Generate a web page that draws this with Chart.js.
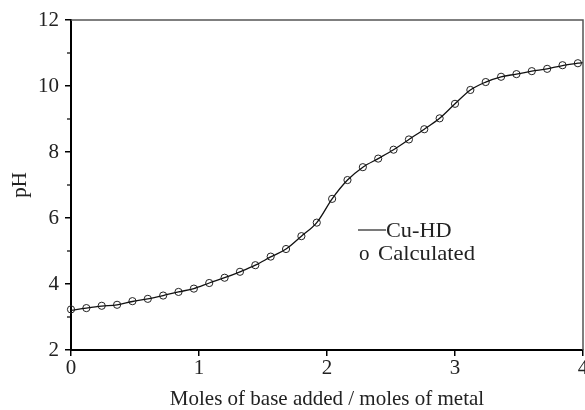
<!DOCTYPE html>
<html>
<head>
<meta charset="utf-8">
<script src="https://cdn.jsdelivr.net/npm/chart.js@4/dist/chart.umd.min.js"></script>
<style>
html,body{margin:0;padding:0;background:#fff;}
#wrap{width:585px;height:410px;position:relative;}
</style>
</head>
<body>
<div id="wrap"><canvas id="c" width="585" height="410"></canvas></div>
<script>
// Base added / metal ratio (x) for the calculated points
const calcX = [0,0.12,0.24,0.36,0.48,0.60,0.72,0.84,0.96,1.08,1.20,1.32,1.44,1.56,1.68,1.80,1.92,2.04,2.16,2.28,2.40,2.52,2.64,2.76,2.88,3.00,3.12,3.24,3.36,3.48,3.60,3.72,3.84,3.96];
// Calculated pH
const calcY = [3.23,3.27,3.34,3.37,3.48,3.55,3.65,3.76,3.86,4.03,4.19,4.37,4.57,4.83,5.06,5.45,5.86,6.58,7.15,7.54,7.80,8.07,8.38,8.69,9.02,9.46,9.88,10.12,10.28,10.36,10.45,10.52,10.63,10.69];
// Experimental Cu-HD curve
const cuHdX = [0,0.12,0.24,0.36,0.48,0.60,0.72,0.84,0.96,1.08,1.20,1.32,1.44,1.56,1.68,1.80,1.92,2.04,2.16,2.28,2.40,2.52,2.64,2.76,2.88,3.00,3.12,3.24,3.36,3.48,3.60,3.72,3.84,3.96,4.00];
const cuHdY = [3.20,3.27,3.33,3.37,3.47,3.55,3.65,3.76,3.86,4.03,4.19,4.37,4.57,4.82,5.06,5.45,5.86,6.58,7.15,7.54,7.80,8.07,8.38,8.69,9.02,9.46,9.88,10.12,10.28,10.36,10.45,10.52,10.62,10.69,10.71];
const xTicks = [0,1,2,3,4];
const yTicks = [2,4,6,8,10,12];
const yMinorTicks = [3,5,7,9,11];
const seriesNames = ['Cu-HD','Calculated'];
const xTitle = 'Moles of base added / moles of metal';
const yTitle = 'pH';

const FONT = 'Liberation Serif';

const framePlugin = {
  id: 'frame',
  afterDraw(chart) {
    const {ctx, chartArea: a, scales} = chart;
    ctx.save();
    // top & right frame
    ctx.strokeStyle = '#555';
    ctx.lineWidth = 1.5;
    ctx.beginPath();
    ctx.moveTo(a.left, a.top);
    ctx.lineTo(a.right, a.top);
    ctx.lineTo(a.right, a.bottom);
    ctx.stroke();
    // minor ticks on y
    ctx.strokeStyle = '#000';
    ctx.lineWidth = 1.2;
    yMinorTicks.forEach(v => {
      const y = scales.y.getPixelForValue(v);
      ctx.beginPath();
      ctx.moveTo(a.left - 4, y);
      ctx.lineTo(a.left, y);
      ctx.stroke();
    });
    // x tick labels (drawn here so the last one may run off the canvas edge)
    ctx.fillStyle = '#222';
    ctx.font = '21px "' + FONT + '"';
    ctx.textAlign = 'center';
    ctx.textBaseline = 'middle';
    xTicks.forEach(v => {
      ctx.fillText(String(v), scales.x.getPixelForValue(v), a.bottom + 18);
    });
    // legend
    ctx.textBaseline = 'middle';
    ctx.textAlign = 'left';
    ctx.strokeStyle = '#222';
    ctx.lineWidth = 1.2;
    ctx.beginPath();
    ctx.moveTo(358, 230);
    ctx.lineTo(386, 230);
    ctx.stroke();
    ctx.save();
    ctx.translate(386, 231);
    ctx.scale(1.06, 1);
    ctx.fillText(seriesNames[0], 0, 0);
    ctx.restore();
    ctx.fillText('o', 359, 254);
    ctx.save();
    ctx.translate(378, 254);
    ctx.scale(1.08, 1);
    ctx.fillText(seriesNames[1], 0, 0);
    ctx.restore();
    ctx.restore();
  }
};

new Chart(document.getElementById('c'), {
  type: 'scatter',
  data: {
    datasets: [
      {
        label: seriesNames[0],
        data: cuHdX.map((x, i) => ({x, y: cuHdY[i]})),
        showLine: true,
        borderColor: '#111',
        borderWidth: 1.3,
        pointRadius: 0,
        cubicInterpolationMode: 'monotone',
        fill: false,
        clip: false
      },
      {
        label: seriesNames[1],
        data: calcX.map((x, i) => ({x, y: calcY[i]})),
        showLine: false,
        pointRadius: 3.6,
        pointBorderWidth: 1,
        pointBorderColor: '#222',
        pointBackgroundColor: 'rgba(0,0,0,0)',
        pointStyle: 'circle',
        clip: false
      }
    ]
  },
  options: {
    responsive: false,
    animation: false,
    devicePixelRatio: 1,
    layout: {autoPadding: false, padding: {top: 20, right: 2, left: 0, bottom: 0}},
    plugins: {legend: {display: false}, tooltip: {enabled: false}},
    scales: {
      x: {
        type: 'linear', min: 0, max: 4,
        afterBuildTicks: s => { s.ticks = xTicks.map(v => ({value: v})); },
        afterFit: s => { s.height = 60; s.paddingLeft = 0; s.paddingRight = 0; },
        ticks: {display: false},
        grid: {drawOnChartArea: false, drawTicks: true, tickLength: 6, color: '#000', lineWidth: 1.5},
        border: {color: '#000', width: 2},
        title: {display: true, text: xTitle, color: '#222', font: {family: FONT, size: 21, lineHeight: 1}, padding: {top: 0, bottom: 0}}
      },
      y: {
        type: 'linear', min: 2, max: 12,
        afterBuildTicks: s => { s.ticks = yTicks.map(v => ({value: v})); },
        afterFit: s => { s.width = 71; s.paddingTop = 0; s.paddingBottom = 0; },
        ticks: {color: '#222', font: {family: FONT, size: 21}, padding: 6},
        grid: {drawOnChartArea: false, tickLength: 6, color: '#000', lineWidth: 1.5},
        border: {color: '#000', width: 2},
        title: {display: true, text: yTitle, color: '#222', font: {family: FONT, size: 21, lineHeight: 1}, padding: {top: 10, bottom: 0}}
      }
    }
  },
  plugins: [framePlugin]
});
</script>
</body>
</html>
